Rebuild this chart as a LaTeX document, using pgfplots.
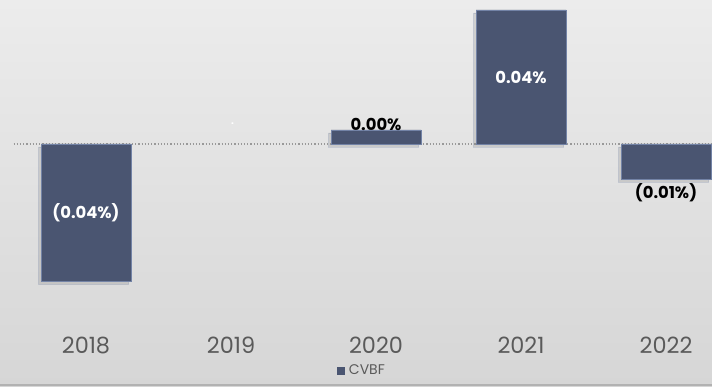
\documentclass[border=0pt]{standalone}
\usepackage{pgfplots}
\pgfplotsset{compat=1.18}
\usepackage{fontspec}
\setmainfont{Poppins}
\usetikzlibrary{shadows}
\definecolor{barblue}{HTML}{4A5571}
\definecolor{baredge}{HTML}{7383A6}
\definecolor{tickgray}{HTML}{5A5A5A}
\begin{document}
\begin{tikzpicture}
\useasboundingbox (-6.75pt,-28pt) rectangle (349.25pt,165pt);
\shade[top color={rgb,255:red,236;green,236;blue,236}, bottom color={rgb,255:red,214;green,214;blue,214}] (-6.75pt,-28pt) rectangle (349.25pt,165pt);
\fill[black!30] (-6.75pt,-28pt) rectangle (349.25pt,-27pt);
\begin{axis}[
  scale only axis,
  width=349.25pt, height=165pt,
  xmin=-0.5, xmax=4.317,
  ymin=-0.05552, ymax=0.042985,
  axis line style={draw=none},
  major tick length=0pt,
  ytick=\empty,
  xtick={0,1,2,3,4},
  xticklabels={2018,2019,2020,2021,2022},
  xticklabel style={font=\fontsize{11.2}{13}\selectfont, text=tickgray},
  clip=false,
  legend style={at={(0.5004,-0.124)}, anchor=center, draw=none, fill=none,
    font=\fontsize{7}{8}\selectfont\color{tickgray}, inner sep=0pt,
    /tikz/every even column/.append style={column sep=0pt}},
]
\draw[densely dotted, gray!80, line width=0.6pt] (axis cs:-0.5,0) -- (axis cs:4.317,0);
\addplot[ybar, bar width=45pt, fill=barblue, draw=baredge, line width=0.4pt, forget plot,
  drop shadow={shadow xshift=-1.2pt, shadow yshift=-1.5pt, opacity=0.25}]
  coordinates {(0,-0.041) (2,0.0042) (3,0.040) (4,-0.0105)};
\addlegendimage{legend image code/.code={\fill[barblue] (0pt,-1.75pt) rectangle (3.5pt,1.75pt);}}
\addlegendentry{CVBF}
\node[text=white, font=\fontsize{8.2}{10}\bfseries\selectfont] at (axis cs:0,-0.02045) {(0.04\%)};
\node[text=white, font=\fontsize{8.2}{10}\bfseries\selectfont] at (axis cs:3,0.020) {0.04\%};
\node[text=black, font=\fontsize{8.2}{10}\bfseries\selectfont] at (axis cs:2,0.00597) {0.00\%};
\node[text=black, font=\fontsize{8.2}{10}\bfseries\selectfont] at (axis cs:4,-0.01463) {(0.01\%)};
\node[text=white, font=\fontsize{5}{6}\bfseries\selectfont, inner sep=0pt] at (axis cs:1.01,0.006) {.};
\end{axis}
\end{tikzpicture}
\end{document}
